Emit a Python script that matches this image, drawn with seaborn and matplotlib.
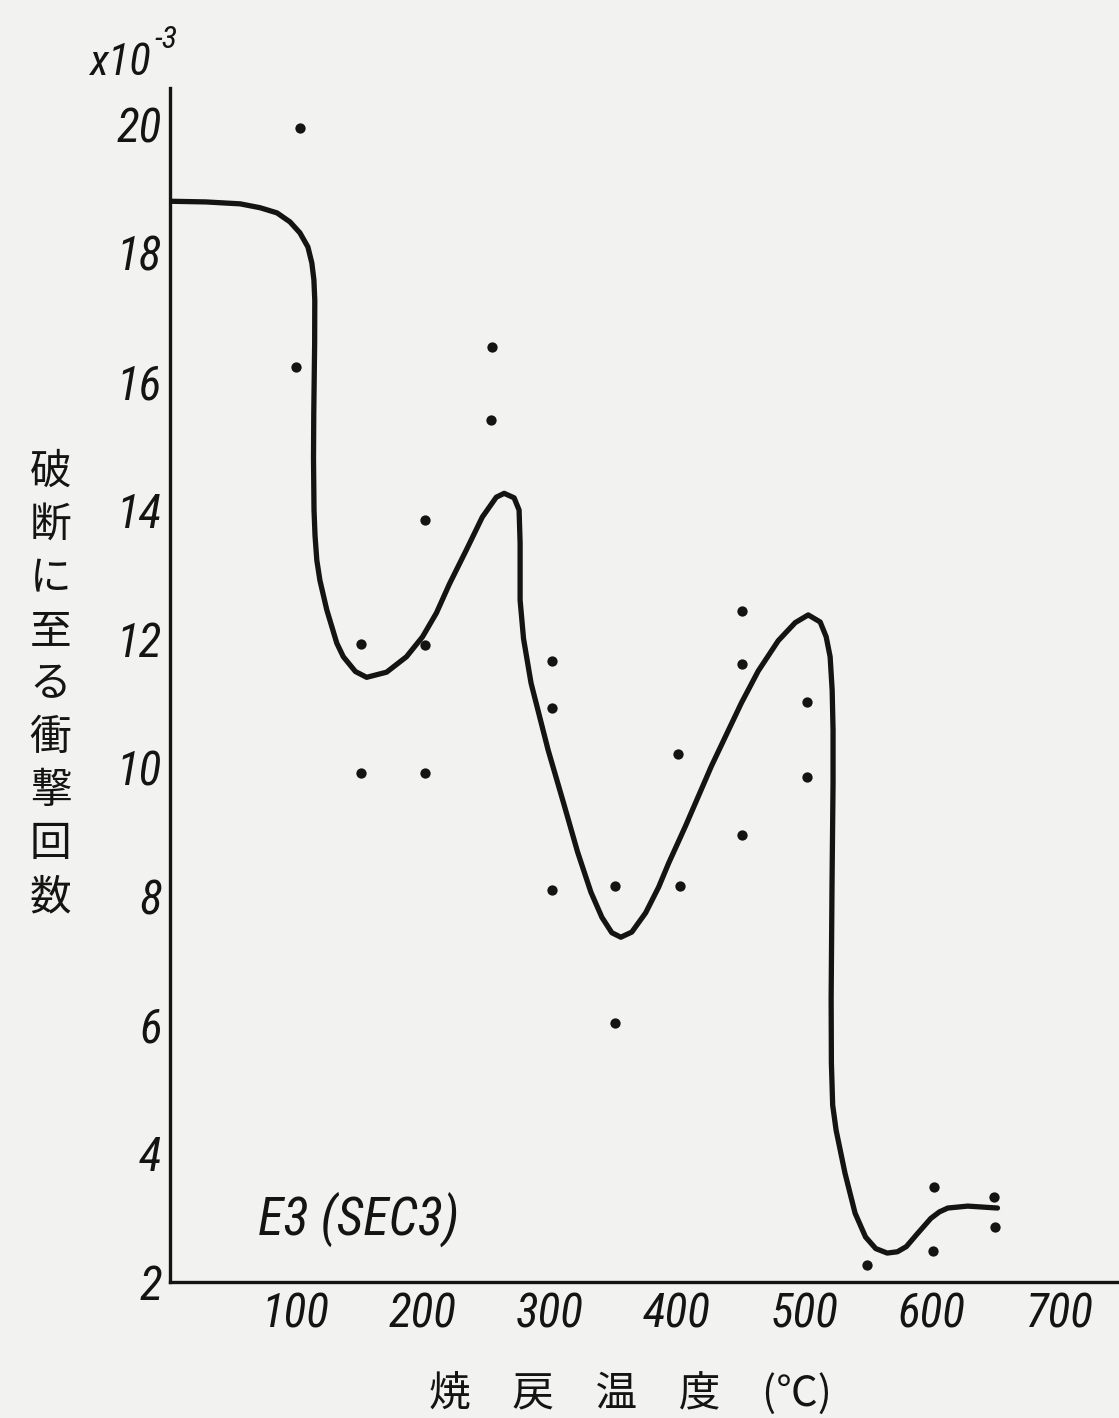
import matplotlib
matplotlib.use("Agg")
import matplotlib.pyplot as plt
import seaborn as sns
import pandas as pd

# ---- data ----
pt_temp = [104, 101, 152, 152, 202, 202, 202, 255, 254, 302, 302, 302, 351, 351,
           401, 402, 451, 451, 451, 502, 502, 549, 602, 601, 649, 650]
pt_impacts = [19.94, 16.22, 11.92, 9.91, 13.85, 11.90, 9.91, 16.53, 15.40, 11.65,
              10.92, 8.09, 8.16, 6.03, 10.21, 8.16, 12.43, 11.61, 8.95, 11.02,
              9.85, 2.26, 3.48, 2.48, 3.32, 2.85]

curve_temp = [3, 30, 57, 72.6, 85.9, 96.1, 103.9, 110.2, 113.3, 114.9, 115.6, 115.5,
              114.8, 114.6, 115.0, 115.8, 117.2, 119.6, 125.0, 132.9, 138.0, 147.5,
              156.3, 172.0, 187.6, 200.2, 211.1, 221.3, 234.6, 247.1, 258.1, 264.3,
              272.1, 276.0, 276.8, 276.8, 279.5, 285.4, 298.8, 311.3, 322.0, 332.4,
              341.0, 348.8, 355.9, 364.5, 375.4, 385.6, 393.4, 406.7, 427.0, 450.5,
              463.8, 479.5, 492.8, 503.0, 512.4, 517.1, 520.2, 521.8, 522.5, 522.5,
              521.7, 521.0, 521.2, 522.2, 524.9, 531.9, 539.8, 548.0, 556.0, 565.0,
              573.0, 580.0, 589.1, 599.3, 606.0, 612.6, 628.2, 651.6]
curve_impacts = [18.80, 18.79, 18.76, 18.70, 18.62, 18.48, 18.31, 18.09, 17.84, 17.58,
                 17.26, 16.6, 15.5, 14.8, 14.0, 13.6, 13.22, 12.91, 12.45, 11.93,
                 11.72, 11.49, 11.40, 11.48, 11.72, 12.03, 12.40, 12.85, 13.38, 13.89,
                 14.20, 14.26, 14.19, 14.00, 13.49, 12.60, 12.00, 11.31, 10.27, 9.42,
                 8.68, 8.06, 7.67, 7.43, 7.36, 7.44, 7.74, 8.14, 8.51, 9.09, 10.02,
                 11.00, 11.50, 11.97, 12.25, 12.37, 12.26, 12.03, 11.72, 11.20, 10.58,
                 9.76, 8.20, 6.40, 5.40, 4.75, 4.36, 3.69, 3.07, 2.70, 2.52, 2.45,
                 2.47, 2.55, 2.76, 2.99, 3.09, 3.15, 3.18, 3.15]

x_ticks = [100, 200, 300, 400, 500, 600, 700]
y_ticks = [2, 4, 6, 8, 10, 12, 14, 16, 18, 20]
ylabel_chars = ["破", "断", "に", "至", "る", "衝", "撃", "回", "数"]
xlabel_text = "焼\u3000戻\u3000温\u3000度\u3000(℃)"
note_text = "E3 (SEC3)"

# ---- style ----
sns.set_theme(style="white")
NUM_FONT = ["Roboto Condensed", "DejaVu Sans"]
CJK_FONT = ["Noto Sans CJK JP", "DejaVu Sans"]
plt.rcParams["font.family"] = NUM_FONT
INK = "#141414"
PAPER = "#f2f2f0"

fig = plt.figure(figsize=(11.19, 14.18), dpi=100, facecolor=PAPER)
ax = fig.add_axes([0.152, 0.0959, 0.848, 0.842])
ax.set_facecolor(PAPER)

pts = pd.DataFrame({"t": pt_temp, "n": pt_impacts})
cur = pd.DataFrame({"t": curve_temp, "n": curve_impacts})

sns.lineplot(data=cur, x="t", y="n", sort=False, estimator=None, color=INK,
             linewidth=3.8, ax=ax, solid_capstyle="round", solid_joinstyle="round")
sns.scatterplot(data=pts, x="t", y="n", color=INK, s=55, edgecolor=INK,
                linewidth=0, ax=ax, zorder=3)

ax.set_xlim(2, 747)
ax.set_ylim(2, 20.56)
for s in ["top", "right"]:
    ax.spines[s].set_visible(False)
for s in ["left", "bottom"]:
    ax.spines[s].set_color(INK)
    ax.spines[s].set_linewidth(2.4)

ax.set_xticks(x_ticks)
ax.set_yticks(y_ticks)
ax.set_xticklabels([str(v) for v in x_ticks], fontsize=34, style="italic",
                   color=INK, family=NUM_FONT, stretch="condensed")
ax.set_yticklabels([str(v) for v in y_ticks], fontsize=34, style="italic",
                   color=INK, family=NUM_FONT, stretch="condensed")
ax.tick_params(axis="both", direction="in", length=16, width=2.0, color=INK)
ax.tick_params(axis="x", pad=7)
ax.tick_params(axis="y", pad=6)

ax.set_xlabel(xlabel_text, fontsize=30, color=INK, family=CJK_FONT)
ax.set_ylabel("\n".join(ylabel_chars), fontsize=30, color=INK, rotation=0,
              va="center", ha="center", linespacing=1.38, family=CJK_FONT)
ax.yaxis.set_label_coords(-0.126, 0.5)
ax.xaxis.set_label_coords(0.485, -0.075)

ax.text(71, 2.73, note_text, fontsize=38, style="italic", color=INK,
        va="baseline", ha="left", family=NUM_FONT, stretch="condensed")

fig.text(0.080, 0.947, "x10", fontsize=32, style="italic", color=INK,
         va="baseline", ha="left", family=NUM_FONT, stretch="condensed")
fig.text(0.138, 0.966, "-3", fontsize=23, style="italic", color=INK,
         va="baseline", ha="left", family=NUM_FONT, stretch="condensed")

fig.savefig("out.png", dpi=100, facecolor=PAPER)
